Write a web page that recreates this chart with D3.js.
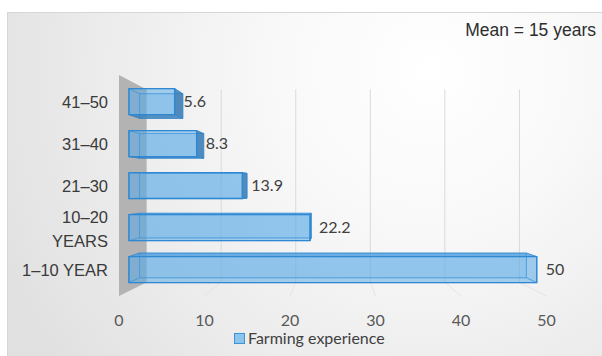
<!DOCTYPE html>
<html>
<head>
<meta charset="utf-8">
<script src="https://cdn.jsdelivr.net/npm/d3@7"></script>
<style>
  body { margin: 0; background: #fff; }
  svg { display: block; }
</style>
</head>
<body>
<div id="chart"></div>
<script>
// farming experience, 3d bar look

const categories = ['41–50', '31–40', '21–30', '10–20 YEARS', '1–10 YEAR']
const values = [5.6, 8.3, 13.9, 22.2, 50]
const ticks = [0, 10, 20, 30, 40, 50]
const seriesName = 'Farming experience'
const note = 'Mean = 15 years'

const width = 602
const height = 356

// perspective: vanishing point + depth factors
const vp = { x: 335, y: 188 }
const sWall = 0.872
const sFront = 0.954
const sBack = 0.905

const svg = d3
  .select('#chart')
  .append('svg')
  .attr('width', width)
  .attr('height', height)

const defs = svg.append('defs')
const grad = defs
  .append('radialGradient')
  .attr('id', 'bg')
  .attr('gradientUnits', 'userSpaceOnUse')
  .attr('cx', 430)
  .attr('cy', 70)
  .attr('r', 470)
grad.append('stop').attr('offset', '0%').attr('stop-color', '#ffffff')
grad.append('stop').attr('offset', '35%').attr('stop-color', '#f8f8f8')
grad.append('stop').attr('offset', '100%').attr('stop-color', '#e1e1e1')

svg
  .append('rect')
  .attr('x', 7)
  .attr('y', 12)
  .attr('width', width - 7)
  .attr('height', height - 12)
  .attr('fill', 'url(#bg)')

svg
  .append('path')
  .attr('d', `M7.5,${height}V12.5H${width}`)
  .attr('fill', 'none')
  .attr('stroke', '#d6d6d6')

const xPositionScale = d3.scaleLinear().domain([0, 50]).range([119, 546.5])

const yPositionScale = d3
  .scaleBand()
  .domain(categories)
  .range([75, 296])
  .paddingInner(0.38)
  .paddingOuter(0.2)

const yTop = 75
const yBottom = 296

function p(x, y, s) {
  return [vp.x + (x - vp.x) * s, vp.y + (y - vp.y) * s]
}
const line = pts => 'M' + pts.map(d => d.join(',')).join('L') + 'Z'

// back gridlines + floor lines
ticks.forEach(t => {
  const x = xPositionScale(t)
  if (t > 0) {
    const a = p(x, yTop, sWall)
    const b = p(x, yBottom, sWall)
    svg
      .append('line')
      .attr('x1', a[0])
      .attr('y1', a[1])
      .attr('x2', b[0])
      .attr('y2', b[1])
      .attr('stroke', '#dadada')
      .attr('stroke-width', 1)
  }
  const c = p(x, yBottom, sWall)
  const d = p(x, yBottom, 1)
  svg
    .append('line')
    .attr('x1', c[0])
    .attr('y1', c[1])
    .attr('x2', d[0])
    .attr('y2', d[1])
    .attr('stroke', '#e4e4e4')
    .attr('stroke-width', 1)
})

// side wall
const x0 = xPositionScale(0)
svg
  .append('path')
  .attr('d', line([p(x0, yTop, 1), p(x0, yTop, sWall), p(x0, yBottom, sWall), p(x0, yBottom, 1)]))
  .attr('fill', '#b3b3b3')

// bars
const bw = yPositionScale.bandwidth()
const strokeCol = '#2e88d4'

categories.forEach((cat, i) => {
  const xl = xPositionScale(0)
  const xr = xPositionScale(values[i])
  const yt = yPositionScale(cat)
  const yb = yt + bw
  const g = svg.append('g').attr('class', 'bar')

  const face = (pts, fill, op) =>
    g
      .append('path')
      .attr('d', line(pts))
      .attr('fill', fill)
      .attr('fill-opacity', op)
      .attr('stroke', strokeCol)
      .attr('stroke-opacity', 0.55)
      .attr('stroke-width', 1)
      .attr('stroke-linejoin', 'round')

  const F = sFront
  const B = sBack
  const back = [p(xl, yt, B), p(xr, yt, B), p(xr, yb, B), p(xl, yb, B)]
  const left = [p(xl, yt, F), p(xl, yt, B), p(xl, yb, B), p(xl, yb, F)]
  const right = [p(xr, yt, F), p(xr, yt, B), p(xr, yb, B), p(xr, yb, F)]
  const top = [p(xl, yt, F), p(xr, yt, F), p(xr, yt, B), p(xl, yt, B)]
  const bottom = [p(xl, yb, F), p(xr, yb, F), p(xr, yb, B), p(xl, yb, B)]
  const front = [p(xl, yt, F), p(xr, yt, F), p(xr, yb, F), p(xl, yb, F)]

  const rightVis = xr < vp.x
  const topVis = yt > vp.y
  const bottomVis = yb < vp.y

  face(back, '#5aaae6', 0.35)
  face(left, '#5aaae6', 0.2)
  if (!rightVis) face(right, '#5aaae6', 0.2)
  if (!topVis) face(top, '#5aaae6', 0.15)
  if (!bottomVis) face(bottom, '#5aaae6', 0.15)
  if (topVis) face(top, '#4a9ade', 0.7)
  if (bottomVis) face(bottom, '#3f80b8', 0.8)
  if (rightVis) face(right, '#3d7db3', 0.85)

  g.append('path')
    .attr('d', line(front))
    .attr('fill', '#5aaae6')
    .attr('fill-opacity', 0.45)
    .attr('stroke', strokeCol)
    .attr('stroke-width', 1.4)

  // value label
  const lp = p(xr, yt + bw / 2, F)
  svg
    .append('text')
    .attr('x', lp[0] + 9)
    .attr('y', lp[1])
    .attr('dy', '0.36em')
    .attr('font-family', 'Lato, sans-serif')
    .attr('font-size', 16)
    .attr('fill', '#404040')
    .text(values[i])
})

// category labels
categories.forEach(cat => {
  const c = p(x0, yPositionScale(cat) + bw / 2, sFront)
  const t = svg
    .append('text')
    .attr('x', 108)
    .attr('y', c[1])
    .attr('text-anchor', 'end')
    .attr('font-family', '"Liberation Sans", Arial, sans-serif')
    .attr('font-size', 16.5)
    .attr('fill', '#3a3a3a')
  t.text(cat)
  if (t.node().getComputedTextLength() > 95) {
    const words = cat.split(' ')
    t.text(null)
    words.forEach((w, k) => {
      t.append('tspan')
        .attr('x', 108)
        .attr('dy', k === 0 ? '-0.25em' : '1.4em')
        .text(w)
    })
  } else {
    t.attr('dy', '0.36em')
  }
})

// x tick labels
svg
  .selectAll('.tick-label')
  .data(ticks)
  .enter()
  .append('text')
  .attr('class', 'tick-label')
  .attr('x', d => xPositionScale(d))
  .attr('y', 326)
  .attr('text-anchor', 'middle')
  .attr('font-family', 'Lato, sans-serif')
  .attr('font-size', 16)
  .attr('fill', '#595959')
  .text(d => d)

// legend
svg
  .append('rect')
  .attr('x', 234.5)
  .attr('y', 333.5)
  .attr('width', 10)
  .attr('height', 10)
  .attr('fill', '#8cc4ec')
  .attr('stroke', '#3c93d8')

svg
  .append('text')
  .attr('x', 248)
  .attr('y', 344)
  .attr('font-family', 'Lato, sans-serif')
  .attr('font-size', 16)
  .attr('fill', '#404040')
  .text(seriesName)

svg
  .append('text')
  .attr('x', 596)
  .attr('y', 36)
  .attr('text-anchor', 'end')
  .attr('font-family', '"Liberation Sans", Arial, sans-serif')
  .attr('font-size', 17.5)
  .attr('fill', '#2e2e2e')
  .text(note)
</script>
</body>
</html>
